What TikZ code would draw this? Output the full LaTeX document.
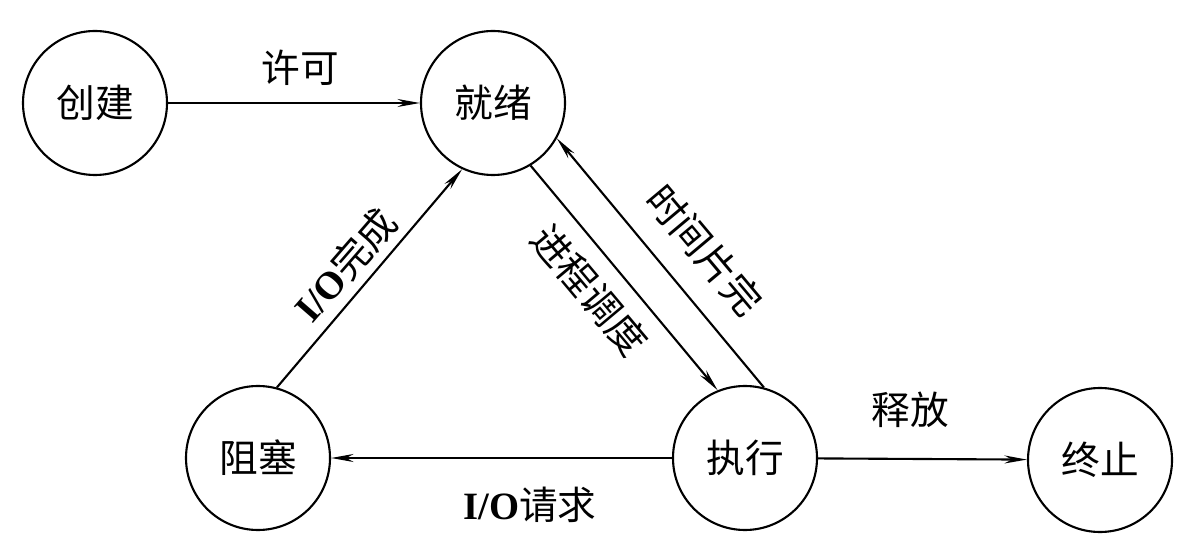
\documentclass[tikz,border=0pt]{standalone}
\usepackage{fontspec}
\setmainfont{Liberation Serif}
\newfontfamily\cjk{Noto Sans CJK SC}
\newcommand\iolabel{{\rmfamily\bfseries I/O}}
\usetikzlibrary{arrows.meta}
\begin{document}
\begin{tikzpicture}[line width=1.2pt, -{Stealth[length=4.5mm,width=1.6mm]}, font=\cjk\fontsize{22}{26}\selectfont]
    \tikzstyle{state}=[circle,draw,line width=1.2pt,minimum size=2.88cm,inner sep=0pt]
    \tikzstyle{annot}=[inner sep=0pt]
    \useasboundingbox (0,0) rectangle (24.08,10.68);

    % Draw the states
    \node[state] (create) at (1.9,8.62) {创建};
    \node[state] (ready) at (9.86,8.62) {就绪};
    \node[state] (block) at (5.16,1.52) {阻塞};
    \node[state] (run) at (14.9,1.52) {执行};
    \node[state] (stop) at (22,1.48) {终止};

    % Draw the transitions
    \draw (create) -- (ready);
    \draw (block.75) -- (ready.-115);
    \draw (ready.-59) -- (run.112);
    \draw (run.75) -- (ready.-29);
    \draw (run) -- (block);
    \draw (run) -- (stop);

    % Annotate the transitions
    \node[annot] (permit) at (6,9.32) {许可};
    \node[annot,rotate=49] (iodone) at (6.9,5.38) {\iolabel 完成};
    \node[annot,rotate=-50] (sched) at (11.8,4.88) {进程调度};
    \node[annot,rotate=-50] (slice) at (14.1,5.68) {时间片完};
    \node[annot] (ioreq) at (10.6,0.58) {\iolabel 请求};
    \node[annot] (release) at (18.2,2.48) {释放};
\end{tikzpicture}
\end{document}
